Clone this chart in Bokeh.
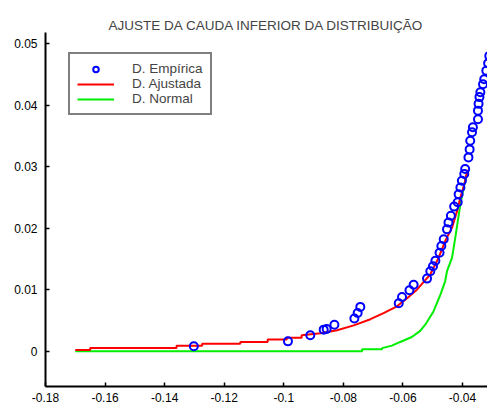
from bokeh.plotting import figure
from bokeh.models import Range1d, FixedTicker, Legend, LegendItem
from bokeh.embed import file_html
from bokeh.resources import INLINE

title_text = "AJUSTE DA CAUDA INFERIOR DA DISTRIBUIÇÃO"

emp_x = [-0.1302, -0.0986, -0.0911, -0.0866, -0.0856, -0.0830, -0.0763, -0.0752, -0.0743,
         -0.0614, -0.0603, -0.0578, -0.0564, -0.0519, -0.0508, -0.0499, -0.0491, -0.0477,
         -0.0471, -0.0463, -0.0452, -0.0447, -0.0439, -0.0428, -0.0416, -0.0413, -0.0407,
         -0.0402, -0.0394, -0.0391, -0.0380, -0.0376, -0.0374, -0.0368, -0.0365, -0.0348,
         -0.0348, -0.0346, -0.0343, -0.0340, -0.0331, -0.0327, -0.0320, -0.0314, -0.0310]
emp_y = [0.0008, 0.0016, 0.0026, 0.0035, 0.0036, 0.0043, 0.0053, 0.0062, 0.0072,
         0.0078, 0.0088, 0.0099, 0.0108, 0.0118, 0.0130, 0.0138, 0.0147, 0.0160,
         0.0171, 0.0182, 0.0198, 0.0209, 0.0220, 0.0235, 0.0242, 0.0255, 0.0266,
         0.0277, 0.0288, 0.0296, 0.0315, 0.0328, 0.0342, 0.0356, 0.0364, 0.0377,
         0.0391, 0.0402, 0.0413, 0.0421, 0.0434, 0.0442, 0.0456, 0.0468, 0.0480]

fit_x = [-0.170, -0.165, -0.165, -0.136, -0.136, -0.1274, -0.1274, -0.1146, -0.1146,
         -0.1054, -0.1054, -0.099, -0.099, -0.094, -0.094, -0.0877, -0.0821, -0.0765,
         -0.0709, -0.0665, -0.0620, -0.0586, -0.0553, -0.0508, -0.0480, -0.0458, -0.0435,
         -0.0418, -0.0407, -0.0394, -0.0383]
fit_y = [0.0002, 0.0002, 0.0005, 0.0005, 0.0009, 0.0009, 0.0012, 0.0012, 0.0015,
         0.0015, 0.0019, 0.0019, 0.0022, 0.0022, 0.0026, 0.0029, 0.0034, 0.0042,
         0.0052, 0.0062, 0.0073, 0.0086, 0.0100, 0.0125, 0.0152, 0.0179, 0.0201,
         0.0228, 0.0250, 0.0271, 0.0295]

norm_x = [-0.170, -0.0737, -0.0737, -0.0670, -0.0670, -0.0637, -0.0609, -0.0570, -0.0542,
          -0.0525, -0.0497, -0.0474, -0.0458, -0.0452, -0.0435, -0.0424, -0.0407, -0.0396,
          -0.0383]
norm_y = [0.0, 0.0, 0.0003, 0.0003, 0.0005, 0.0009, 0.0015, 0.0023, 0.0033,
          0.0043, 0.0065, 0.0092, 0.0114, 0.0130, 0.0152, 0.0185, 0.0239, 0.0266,
          0.0293]

x_ticks = [-0.18, -0.16, -0.14, -0.12, -0.10, -0.08, -0.06, -0.04]
x_tick_labels = ["-0.18", "-0.16", "-0.14", "-0.12", "-0.1", "-0.08", "-0.06", "-0.04"]
y_ticks = [0.0, 0.01, 0.02, 0.03, 0.04, 0.05]
y_tick_labels = ["0", "0.01", "0.02", "0.03", "0.04", "0.05"]

legend_labels = ["D. Empírica", "D. Ajustada", "D. Normal"]

FONT = "Liberation Sans"

p = figure(width=487, height=407, output_backend="svg", toolbar_location=None,
           x_range=Range1d(-0.18, -0.0316), y_range=Range1d(-0.00574, 0.0518),
           min_border_left=45, min_border_right=0, min_border_top=32, min_border_bottom=21)

p.title.text = title_text
p.title.align = "center"
p.title.text_font = FONT
p.title.text_font_size = "13.5px"
p.title.text_font_style = "normal"
p.title.standoff = 0
p.title.offset = 0

p.outline_line_color = None
p.xgrid.visible = False
p.ygrid.visible = False

for ax in (p.xaxis[0], p.yaxis[0]):
    ax.axis_line_color = "black"
    ax.axis_line_width = 2
    ax.major_tick_in = 4
    ax.major_tick_out = 0
    ax.major_tick_line_width = 1.5
    ax.minor_tick_in = 0
    ax.minor_tick_out = 0
    ax.major_label_text_font = FONT
    ax.major_label_text_font_size = "12px"
    ax.major_label_text_color = "black"

p.xaxis[0].ticker = FixedTicker(ticks=x_ticks)
p.xaxis[0].major_label_overrides = dict(zip(x_ticks, x_tick_labels))
p.xaxis[0].major_label_standoff = 6
p.yaxis[0].ticker = FixedTicker(ticks=y_ticks)
p.yaxis[0].major_label_overrides = dict(zip(y_ticks, y_tick_labels))
p.yaxis[0].major_label_standoff = 8

r_norm = p.line(norm_x, norm_y, line_color="#00ee00", line_width=2)
r_fit = p.line(fit_x, fit_y, line_color="#ff0000", line_width=2)
r_emp = p.scatter(emp_x, emp_y, marker="circle", size=8, fill_color=None,
                  line_color="#0000ff", line_width=2)

legend = Legend(items=[LegendItem(label=legend_labels[0], renderers=[r_emp]),
                       LegendItem(label=legend_labels[1], renderers=[r_fit]),
                       LegendItem(label=legend_labels[2], renderers=[r_norm])],
                location=(23, 271), orientation="vertical")
legend.border_line_color = "black"
legend.border_line_width = 2
legend.background_fill_color = "white"
legend.background_fill_alpha = 1
legend.label_text_font = FONT
legend.label_text_font_size = "13.5px"
legend.glyph_width = 37
legend.glyph_height = 14
legend.label_height = 14
legend.label_standoff = 18
legend.spacing = 0
legend.padding = 7
legend.margin = 0
p.add_layout(legend, "center")

open("out.html", "w").write(file_html(p, INLINE))
